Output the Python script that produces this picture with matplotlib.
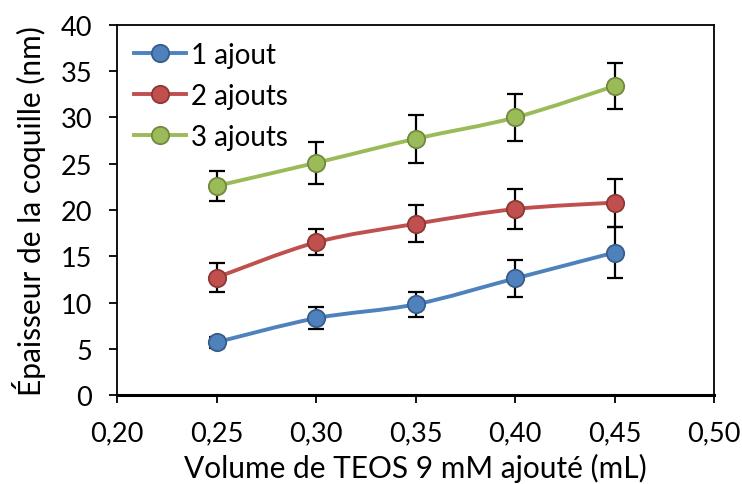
import numpy as np
import matplotlib
matplotlib.use("Agg")
import matplotlib.pyplot as plt
from matplotlib.path import Path
from matplotlib.patches import PathPatch
from matplotlib.lines import Line2D

# ── Data ──────────────────────────────────────────────────────
volume = [0.25, 0.30, 0.35, 0.40, 0.45]

ep_1 = [5.7, 8.3, 9.8, 12.6, 15.4]
err_1 = [0.6, 1.2, 1.35, 2.0, 2.8]

ep_2 = [12.7, 16.5, 18.5, 20.1, 20.8]
err_2 = [1.6, 1.4, 2.0, 2.2, 2.6]

ep_3 = [22.6, 25.1, 27.7, 30.0, 33.4]
err_3 = [1.6, 2.3, 2.6, 2.5, 2.5]

labels = ["1 ajout", "2 ajouts", "3 ajouts"]

plt.rcParams["font.family"] = ["Lato", "DejaVu Sans"]


def smooth_path(x, y, t=1 / 6):
    # Excel-like smoothed line: cubic Bezier through every point
    x = np.asarray(x, float)
    y = np.asarray(y, float)
    verts = [(x[0], y[0])]
    codes = [Path.MOVETO]
    n = len(x)
    for i in range(n - 1):
        p0 = (x[max(i - 1, 0)], y[max(i - 1, 0)])
        p1 = (x[i], y[i])
        p2 = (x[i + 1], y[i + 1])
        p3 = (x[min(i + 2, n - 1)], y[min(i + 2, n - 1)])
        c1 = (p1[0] + (p2[0] - p0[0]) * t, p1[1] + (p2[1] - p0[1]) * t)
        c2 = (p2[0] - (p3[0] - p1[0]) * t, p2[1] - (p3[1] - p1[1]) * t)
        verts += [c1, c2, p2]
        codes += [Path.CURVE4] * 3
    return Path(verts, codes)


fig = plt.figure(figsize=(7.42, 4.85), dpi=100)
ax = fig.add_axes([0.1577, 0.1835, 0.8046, 0.7629])

series = [
    (ep_1, err_1, "#4F81BD", "#385D8A"),
    (ep_2, err_2, "#C0504D", "#8C3836"),
    (ep_3, err_3, "#9BBB59", "#71893F"),
]

handles = []
for (y, e, col, edge), lab in zip(series, labels):
    ax.add_patch(PathPatch(smooth_path(volume, y), facecolor="none",
                           edgecolor=col, lw=2.8, zorder=2))
    ax.errorbar(volume, y, yerr=e, fmt="none", ecolor="black",
                elinewidth=1.6, capsize=6, capthick=1.6, zorder=3)
    ax.plot(volume, y, ls="none", marker="o", ms=12.5, mfc=col,
            mec=edge, mew=1.3, zorder=4)
    handles.append(Line2D([], [], color=col, lw=2.8, marker="o", ms=12.5,
                          mfc=col, mec=edge, mew=1.3, label=lab))

ax.set_xlim(0.20, 0.50)
ax.set_ylim(0, 40)
ax.set_xticks(np.arange(0.20, 0.501, 0.05))
ax.set_yticks(range(0, 41, 5))
ax.set_xticklabels([f"{v:.2f}".replace(".", ",") for v in ax.get_xticks()])

ax.tick_params(direction="out", length=6, width=1.3, labelsize=19.5,
               colors="black")
ax.tick_params(axis="x", pad=12)
ax.tick_params(axis="y", pad=12)
for s in ax.spines.values():
    s.set_linewidth(1.3)
ax.spines["bottom"].set_linewidth(2.2)

ax.set_xlabel("Volume de TEOS 9 mM ajouté (mL)", fontsize=21.5, labelpad=6)
ax.set_ylabel("Épaisseur de la coquille (nm)", fontsize=21.5, labelpad=10)

ax.legend(handles=handles, loc="upper left", frameon=False, fontsize=20,
          handlelength=1.9, handletextpad=0.15, labelspacing=0.55,
          borderaxespad=0.2, bbox_to_anchor=(0.0, 1.0))

fig.savefig("out.png", dpi=100)
